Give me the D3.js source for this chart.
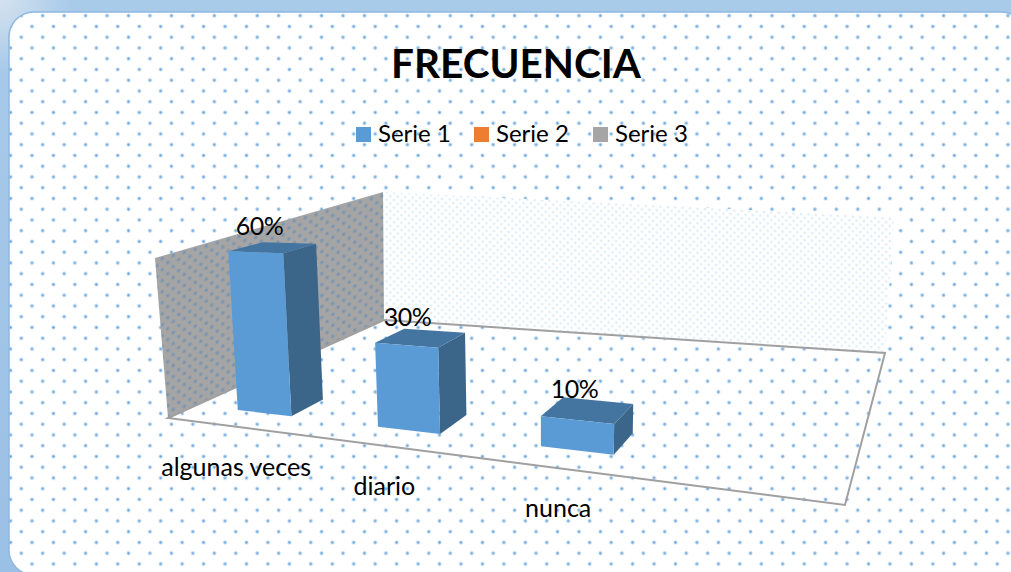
<!DOCTYPE html>
<html><head><meta charset="utf-8">
<script src="https://cdn.jsdelivr.net/npm/d3@7/dist/d3.min.js"></script>
<style>html,body{margin:0;padding:0;background:#fff;overflow:hidden}svg{display:block}text{font-family:Lato,"Noto Sans",sans-serif;fill:#000}</style>
</head><body><svg id="c" width="1011" height="572"></svg>
<script>
const chartTitle = "FRECUENCIA";
const categories = ["algunas veces","diario","nunca",""];
const seriesNames = ["Serie 1","Serie 2","Serie 3"];
const seriesColors = ["#5b9bd5","#ed7d31","#a5a5a5"];
const serie1 = [0.6,0.3,0.1,null];
const serie2 = [null,null,null,null];
const serie3 = [null,null,null,null];

const W=1011,H=572;
const svg=d3.select("#c");
const defs=svg.append("defs");

// frame
const g1=defs.append("linearGradient").attr("id","frameTop").attr("x1",0).attr("y1",0).attr("x2",0).attr("y2",1);
g1.append("stop").attr("offset",0).attr("stop-color","#a9cbea");
g1.append("stop").attr("offset",1).attr("stop-color","#9bc0e5");
const g2=defs.append("radialGradient").attr("id","frameCorner").attr("cx",0).attr("cy",0).attr("r",1);
g2.append("stop").attr("offset",0).attr("stop-color","#d5e2ee");
g2.append("stop").attr("offset",1).attr("stop-color","#d5e2ee").attr("stop-opacity",0);
const dot=defs.append("radialGradient").attr("id","dot");
dot.append("stop").attr("offset",0).attr("stop-color","#62a0d9");
dot.append("stop").attr("offset",.3).attr("stop-color","#7db1e0");
dot.append("stop").attr("offset",.6).attr("stop-color","#cfe2f4");
dot.append("stop").attr("offset",1).attr("stop-color","#eef5fb").attr("stop-opacity",0);
const dotD=defs.append("radialGradient").attr("id","dotDark");
dotD.append("stop").attr("offset",0).attr("stop-color","#5b88b5");
dotD.append("stop").attr("offset",1).attr("stop-color","#5b88b5").attr("stop-opacity",0);

function dots(id,w,h,x0,y0,r,xform,bg,op,fill){
  const p=defs.append("pattern").attr("id",id).attr("patternUnits","userSpaceOnUse")
    .attr("width",w).attr("height",h).attr("x",x0).attr("y",y0);
  if(xform)p.attr("patternTransform",xform);
  if(bg)p.append("rect").attr("width",w).attr("height",h).attr("fill",bg);
  [[w*.25,h*.25],[w*.75,h*.75]].forEach(([cx,cy])=>{
    p.append("circle").attr("cx",cx).attr("cy",cy).attr("r",r).attr("fill",`url(#${fill})`).attr("opacity",op);
  });
}
dots("panelDots",21.45,21.5,42.7-21.45*.25,15.7-21.5*.25,2.8,null,"#fff",1,"dot");
dots("leftDots",11,11,0,0,2.6,"skewY(-16)","#a5a5a5",.8,"dotDark");
dots("backDots",7.4,7.4,0,0,2.2,"skewY(3)","#fff",.24,"dot");

svg.append("rect").attr("width",W).attr("height",H).attr("fill","url(#frameTop)");
svg.append("rect").attr("width",70).attr("height",70).attr("fill","url(#frameCorner)");
svg.append("rect").attr("x",9).attr("y",12).attr("width",1017).attr("height",563).attr("rx",25)
  .attr("fill","url(#panelDots)").attr("stroke","#8fb8e2").attr("stroke-width",1.5);

// projection of the 3D plot box, u along categories, v depth, h value height
const cFL=[168,418],cFR=[845,505],cBL=[384,320],cBR=[885,353];
const tFL=[155,258],tBL=[383,192],tBR=[894,217];
const tBRfit=[892,232];
function solve(A,b){
  const n=b.length,M=A.map((r,i)=>[...r,b[i]]);
  for(let i=0;i<n;i++){
    let p=i;for(let k=i+1;k<n;k++)if(Math.abs(M[k][i])>Math.abs(M[p][i]))p=k;
    [M[i],M[p]]=[M[p],M[i]];
    for(let k=0;k<n;k++)if(k!==i){const f=M[k][i]/M[i][i];for(let j=i;j<=n;j++)M[k][j]-=f*M[i][j];}
  }
  return M.map((r,i)=>r[n]/r[i]);
}
const dx1=cFR[0]-cBR[0],dx2=cBL[0]-cBR[0],sx=cFL[0]-cFR[0]+cBR[0]-cBL[0];
const dy1=cFR[1]-cBR[1],dy2=cBL[1]-cBR[1],sy=cFL[1]-cFR[1]+cBR[1]-cBL[1];
const [g,hh]=solve([[dx1,dx2],[dy1,dy2]],[sx,sy]);
const Hm=[[cFR[0]-cFL[0]+g*cFR[0],cBL[0]-cFL[0]+hh*cBL[0],cFL[0]],
          [cFR[1]-cFL[1]+g*cFR[1],cBL[1]-cFL[1]+hh*cBL[1],cFL[1]],
          [g,hh,1]];
const fl=(u,v)=>Hm.map(r=>r[0]*u+r[1]*v+r[2]);
const tops=[[0,0,tFL],[0,1,tBL],[1,1,tBRfit]];
const rows=[],rhs=[];
tops.forEach(([u,v,T])=>{const f=fl(u,v);
  rows.push([1,0,-T[0]]);rhs.push(T[0]*f[2]-f[0]);
  rows.push([0,1,-T[1]]);rhs.push(T[1]*f[2]-f[1]);});
const AtA=[0,1,2].map(i=>[0,1,2].map(j=>d3.sum(rows,r=>r[i]*r[j])));
const Atb=[0,1,2].map(i=>d3.sum(rows,(r,k)=>r[i]*rhs[k]));
const C=solve(AtA,Atb);
function P(u,v,h){const f=fl(u,v);const w=f[2]+C[2]*h;return [(f[0]+C[0]*h)/w,(f[1]+C[1]*h)/w];}

const xBand=d3.scaleBand().domain(categories).range([.006,1.042]).paddingInner(.6).paddingOuter(.3);
const zBand=d3.scaleBand().domain([seriesNames[0]]).range([0,1]);
const depth=d3.scaleLinear().domain([0,1]).range([.1,.23]);
const y=d3.scaleLinear().domain([0,.58]).range([0,1]);
const pts=a=>a.map(p=>p.join(",")).join(" ");

// walls and floor
const plot=svg.append("g");
plot.append("polygon").attr("points",pts([cBL,tBL,tBR,cBR])).attr("fill","url(#backDots)");
plot.append("polygon").attr("points",pts([cFL,tFL,tBL,cBL])).attr("fill","url(#leftDots)");
plot.append("polyline").attr("points",pts([cBL,cFL,cFR,cBR,cBL])).attr("fill","none")
  .attr("stroke","#a0a0a0").attr("stroke-width",2);

// bars
const barData=categories.map((c,i)=>({c,v:serie1[i]})).filter(d=>d.v!=null);
const bars=plot.selectAll("g.bar").data(barData).join("g").attr("class","bar");
const corners=d=>{const u0=xBand(d.c),u1=u0+xBand.bandwidth(),v0=depth(zBand(seriesNames[0])),v1=depth(zBand(seriesNames[0])+zBand.bandwidth()),h=y(d.v);
  return {u0,u1,v0,v1,h};};
bars.append("polygon").attr("fill","#3c6689").attr("points",d=>{const k=corners(d);
  return pts([P(k.u1,k.v0,0),P(k.u1,k.v1,0),P(k.u1,k.v1,k.h),P(k.u1,k.v0,k.h)]);});
bars.append("polygon").attr("fill","#4475a0").attr("points",d=>{const k=corners(d);
  return pts([P(k.u0,k.v0,k.h),P(k.u1,k.v0,k.h),P(k.u1,k.v1,k.h),P(k.u0,k.v1,k.h)]);});
bars.append("polygon").attr("fill",seriesColors[0]).attr("points",d=>{const k=corners(d);
  return pts([P(k.u0,k.v0,0),P(k.u1,k.v0,0),P(k.u1,k.v0,k.h),P(k.u0,k.v0,k.h)]);});

// data labels
const fmt=d3.format(".0%");
plot.selectAll("text.val").data(barData).join("text").attr("class","val")
  .attr("text-anchor","middle").attr("font-size",25).attr("letter-spacing",-.5)
  .attr("x",d=>{const k=corners(d);return P((k.u0+k.u1)/2,(k.v0+k.v1)/2,k.h)[0]-13;})
  .attr("y",d=>{const k=corners(d);return P((k.u0+k.u1)/2,(k.v0+k.v1)/2,k.h)[1]-12;})
  .text(d=>fmt(d.v));

// category labels
plot.selectAll("text.cat").data(categories).join("text").attr("class","cat")
  .attr("text-anchor","middle").attr("font-size",25)
  .attr("x",c=>P(xBand(c)+xBand.bandwidth()/2,0,0)[0]-1)
  .attr("y",c=>P(xBand(c)+xBand.bandwidth()/2,0,0)[1]+49)
  .text(c=>c);

// title
svg.append("text").attr("x",516).attr("y",78).attr("text-anchor","middle")
  .attr("font-size",40.5).attr("font-weight",700).text(chartTitle);

// legend
const legendX=d3.scaleOrdinal().domain(seriesNames).range([356,474,593]);
const lg=svg.selectAll("g.lg").data(seriesNames).join("g").attr("class","lg")
  .attr("transform",d=>`translate(${legendX(d)},127)`);
lg.append("rect").attr("width",15).attr("height",15).attr("fill",(d,i)=>seriesColors[i]);
lg.append("text").attr("x",22).attr("y",15).attr("font-size",24).text(d=>d);
</script></body></html>
